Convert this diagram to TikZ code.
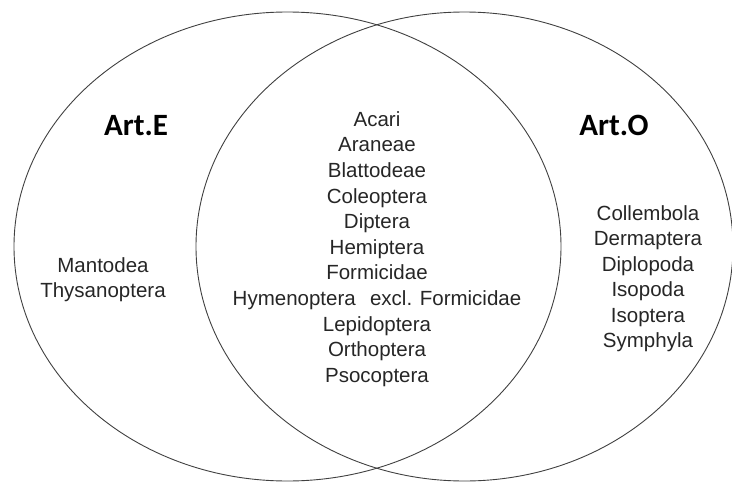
\documentclass[tikz,border=0pt]{standalone}
\usepackage{fontspec}
\setmainfont{Liberation Sans}
\newfontfamily\labelfont{Carlito}
\usepackage{tikz}
\usetikzlibrary{positioning, shapes.geometric}

\newcommand{\taxfont}{\fontsize{20.5}{24}\selectfont}
\newcommand{\setfont}{\labelfont\bfseries\fontsize{31}{36}\selectfont}

\begin{document}
\begin{tikzpicture}[x=1pt,y=-1pt]
	\tikzset{
		taxon/.style={anchor=base, font=\taxfont, text=black!85, inner sep=0pt},
		setname/.style={anchor=base, font=\setfont, inner sep=0pt},
		setring/.style={ellipse, draw=black!75, line width=0.9pt, inner sep=0pt}
	}
	\useasboundingbox (0,0) rectangle (732,485);
	% the two sets
	\node[setring, minimum width=547pt, minimum height=469pt] (ringE) at (287.5,246.5) {};
	\node[setring, minimum width=537pt, minimum height=469pt] (ringO) at (464.5,246.5) {};
	\node[setname] (artE) at (136,135) {Art.E};
	\node[setname] (artO) at (614,135) {Art.O};
	% shared taxa
	\foreach \name [count=\i] in {Acari, Araneae, Blattodeae, Coleoptera, Diptera, Hemiptera, Formicidae, Hymenoptera\hspace{0.7em}excl. Formicidae, Lepidoptera, Orthoptera, Psocoptera} {
		\node[taxon] (both\i) at (377,{100.7+25.6*\i}) {\name};
	}
	% only in Art.E
	\foreach \name [count=\i] in {Mantodea, Thysanoptera} {
		\node[taxon] (onlyE\i) at (103,{247.3+25*\i}) {\name};
	}
	% only in Art.O
	\foreach \name [count=\i] in {Collembola, Dermaptera, Diplopoda, Isopoda, Isoptera, Symphyla} {
		\node[taxon] (onlyO\i) at (648,{194.8+25.5*\i}) {\name};
	}
\end{tikzpicture}
\end{document}
